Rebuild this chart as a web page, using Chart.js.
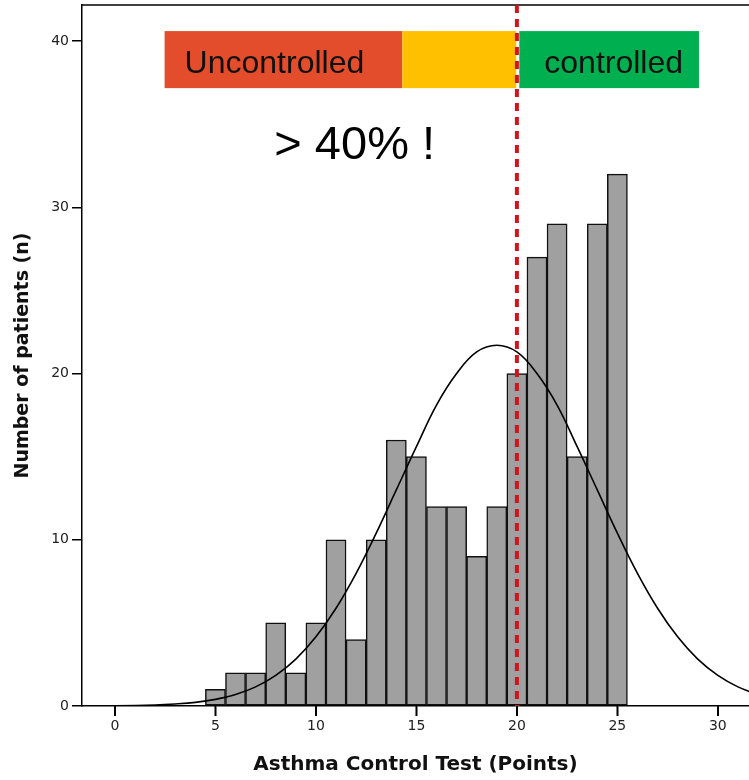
<!DOCTYPE html>
<html>
<head>
<meta charset="utf-8">
<script src="https://cdn.jsdelivr.net/npm/chart.js@4/dist/chart.umd.min.js"></script>
<style>
  html, body { margin: 0; padding: 0; background: #fff; }
  #wrap { position: relative; width: 749px; height: 780px; }
</style>
</head>
<body>
<div id="wrap"><canvas id="c" width="749" height="780"></canvas></div>
<script>
// ---- Data ----
const scoreBins = [5, 6, 7, 8, 9, 10, 11, 12, 13, 14, 15, 16, 17, 18, 19, 20, 21, 22, 23, 24, 25];
const patientCounts = [1, 2, 2, 5, 2, 5, 10, 4, 10, 16, 15, 12, 12, 9, 12, 20, 27, 29, 15, 29, 32];

// fitted normal curve
const curveX = [-2, 0, 2, 3, 4, 5, 6, 7, 8, 9, 10, 11, 12, 13, 14, 15, 16, 17, 18, 19, 20, 21, 22, 23, 24, 25, 26, 27, 28, 29, 30, 31, 32];
const curveY = [0.0, 0.01, 0.06, 0.12, 0.22, 0.4, 0.69, 1.15, 1.84, 2.82, 4.16, 5.88, 7.98, 10.4, 13.0, 15.6, 18.1, 20.0, 21.3, 21.7, 21.3, 20.0, 18.1, 15.6, 13.0, 10.4, 7.98, 5.88, 4.16, 2.82, 1.84, 1.15, 0.69];

const xTicks = [0, 5, 10, 15, 20, 25, 30];
const yTicks = [0, 10, 20, 30, 40];

const cutoffScore = 20;
const zoneLabels = ['Uncontrolled', '', 'controlled'];
const zoneFrom = [2.47, 14.3, 20.12];
const zoneTo = [14.3, 19.97, 29.06];
const zoneColors = ['#E44D2B', '#FFC000', '#00B050'];
const zoneTop = 40.6, zoneBottom = 37.17;
const noteText = '> 40% !';

// ---- Build ----
const barData = scoreBins.map((x, i) => ({ x: x, y: patientCounts[i] }));
const curveData = curveX.map((x, i) => ({ x: x, y: curveY[i] }));

const overlayPlugin = {
  id: 'overlay',
  beforeDatasetsDraw(chart) {
    const { ctx, chartArea, scales: { x, y } } = chart;
    ctx.save();
    const y0 = y.getPixelForValue(zoneTop), y1 = y.getPixelForValue(zoneBottom);
    zoneLabels.forEach((label, i) => {
      const x0 = x.getPixelForValue(zoneFrom[i]), x1 = x.getPixelForValue(zoneTo[i]);
      ctx.fillStyle = zoneColors[i];
      ctx.fillRect(x0, y0, x1 - x0, y1 - y0);
      if (label) {
        ctx.fillStyle = '#111';
        ctx.font = '32px "Liberation Sans", Arial, sans-serif';
        ctx.textAlign = 'left';
        ctx.textBaseline = 'alphabetic';
        ctx.fillText(label, x0 + (i === 0 ? 20 : 25), y1 - 15.5);
      }
    });
    ctx.fillStyle = '#000';
    ctx.font = '47px "Liberation Sans", Arial, sans-serif';
    ctx.textAlign = 'center';
    ctx.textBaseline = 'alphabetic';
    ctx.fillText(noteText, x.getPixelForValue(11.93), y.getPixelForValue(32.9));
    // top frame line
    ctx.strokeStyle = '#000';
    ctx.lineWidth = 1.5;
    ctx.beginPath();
    ctx.moveTo(chartArea.left, chartArea.top);
    ctx.lineTo(chartArea.right, chartArea.top);
    ctx.stroke();
    ctx.restore();
  },
  afterDatasetsDraw(chart) {
    const { ctx, chartArea, scales: { x } } = chart;
    const px = x.getPixelForValue(cutoffScore);
    ctx.save();
    ctx.strokeStyle = '#D0141E';
    ctx.lineWidth = 4;
    ctx.setLineDash([8, 6]);
    ctx.beginPath();
    ctx.moveTo(px, chartArea.top);
    ctx.lineTo(px, chartArea.bottom);
    ctx.stroke();
    ctx.restore();
  },
  afterDraw(chart) {
    const { ctx, chartArea, scales: { x } } = chart;
    ctx.save();
    ctx.strokeStyle = '#000';
    ctx.lineWidth = 1.5;
    ctx.beginPath();
    xTicks.forEach(v => {
      const px = Math.round(x.getPixelForValue(v)) + 0.25;
      ctx.moveTo(px, chartArea.bottom);
      ctx.lineTo(px, chartArea.bottom + 10);
    });
    ctx.stroke();
    ctx.restore();
  }
};

function noPad(scale) {
  scale.paddingTop = 0; scale.paddingBottom = 0;
  scale.paddingLeft = 0; scale.paddingRight = 0;
}

new Chart(document.getElementById('c'), {
  type: 'bar',
  data: {
    datasets: [
      {
        type: 'line',
        data: curveData,
        borderColor: '#000',
        borderWidth: 1.6,
        pointRadius: 0,
        tension: 0.4,
        fill: false,
        order: 0
      },
      {
        type: 'bar',
        data: barData,
        backgroundColor: '#A0A0A0',
        borderColor: '#111',
        borderWidth: 1.5,
        borderSkipped: false,
        barPercentage: 1.0,
        categoryPercentage: 1.0,
        order: 1
      }
    ]
  },
  options: {
    responsive: false,
    animation: false,
    events: [],
    layout: { padding: { top: 5, right: 0, bottom: 0, left: 0 } },
    plugins: { legend: { display: false }, tooltip: { enabled: false } },
    scales: {
      x: {
        type: 'linear',
        offset: false,
        min: -1.64,
        max: 31.55,
        afterBuildTicks(scale) { scale.ticks = xTicks.map(v => ({ value: v })); },
        afterFit(scale) { scale.height = 74; noPad(scale); },
        ticks: { color: '#222', font: { family: '"DejaVu Sans"', size: 14 }, padding: 2, maxRotation: 0, includeBounds: false },
        grid: { display: true, offset: false, drawOnChartArea: false, drawTicks: true, tickLength: 10, color: '#000', tickColor: '#000', tickWidth: 1.5, lineWidth: 1.5 },
        border: { display: true, color: '#000', width: 1.5 },
        title: { display: true, text: 'Asthma Control Test (Points)', color: '#111', font: { family: '"DejaVu Sans"', size: 20, weight: 'bold' }, padding: { top: 0, bottom: 3 } }
      },
      y: {
        type: 'linear',
        min: 0,
        max: 42.17,
        afterBuildTicks(scale) { scale.ticks = yTicks.map(v => ({ value: v })); },
        afterFit(scale) { scale.width = 82; noPad(scale); },
        ticks: { color: '#222', font: { family: '"DejaVu Sans"', size: 14 }, padding: 3, includeBounds: false },
        grid: { display: true, drawOnChartArea: false, drawTicks: true, tickLength: 10, color: '#000', lineWidth: 1.5 },
        border: { display: true, color: '#000', width: 1.5 },
        title: { display: true, text: 'Number of patients (n)', color: '#111', font: { family: '"DejaVu Sans"', size: 19, weight: 'bold' }, padding: { top: 12, bottom: 0 } }
      }
    }
  },
  plugins: [overlayPlugin]
});
</script>
</body>
</html>
